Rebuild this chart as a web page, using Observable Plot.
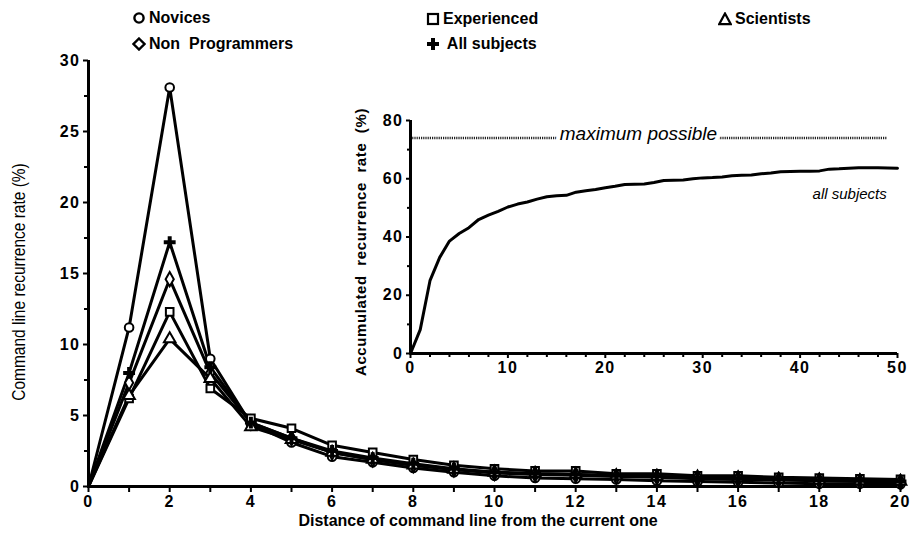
<!DOCTYPE html>
<html>
<head>
<meta charset="utf-8">
<script src="https://cdn.jsdelivr.net/npm/d3@7"></script>
<script src="https://cdn.jsdelivr.net/npm/@observablehq/plot@0.6"></script>
<style>
  html, body { margin: 0; padding: 0; background: #fff; }
  #wrap { position: relative; width: 914px; height: 534px; overflow: hidden;
          font-family: "Liberation Sans", Arial, Helvetica, sans-serif; color: #000; }
  #main { position: absolute; left: 0; top: 0; }
  #inset { position: absolute; left: 340px; top: 100px; }
  .leg { position: absolute; display: flex; align-items: center; font-weight: bold;
         font-size: 16px; white-space: pre; line-height: 1; }
  .leg svg { margin-right: 3px; }
  .title { position: absolute; white-space: pre; line-height: 1; }
</style>
</head>
<body>
<div id="wrap">
  <div id="main"></div>
  <div id="inset"></div>
  <div id="legend"></div>
  <div id="titles"></div>
</div>
<script>
// ---------------- data ----------------
const distances = [0, 1, 2, 3, 4, 5, 6, 7, 8, 9, 10, 11, 12, 13, 14, 15, 16, 17, 18, 19, 20];
const novices        = [0, 11.2, 28.1, 9.0, 4.4, 3.1, 2.1, 1.7, 1.3, 1.0, 0.75, 0.6, 0.55, 0.5, 0.4, 0.35, 0.3, 0.25, 0.2, 0.2, 0.15];
const experienced    = [0, 6.2, 12.3, 6.9, 4.8, 4.1, 2.9, 2.4, 1.9, 1.5, 1.25, 1.1, 1.1, 0.9, 0.9, 0.75, 0.75, 0.65, 0.6, 0.55, 0.5];
const scientists     = [0, 6.4, 10.4, 7.6, 4.2, 3.3, 2.4, 1.9, 1.5, 1.2, 1.0, 0.9, 0.85, 0.75, 0.7, 0.65, 0.6, 0.5, 0.45, 0.4, 0.35];
const nonProgrammers = [0, 7.3, 14.6, 8.0, 4.5, 3.4, 2.4, 1.9, 1.5, 1.2, 0.95, 0.85, 0.8, 0.7, 0.65, 0.55, 0.5, 0.45, 0.4, 0.35, 0.3];
const allSubjects    = [0, 8.0, 17.2, 8.4, 4.5, 3.4, 2.5, 2.0, 1.6, 1.25, 1.0, 0.9, 0.85, 0.75, 0.7, 0.6, 0.55, 0.5, 0.45, 0.4, 0.35];

const groupNames   = ["Novices", "Non Programmers", "Experienced", "All subjects", "Scientists"];
const groupSymbols = ["circle", "diamond", "square", "cross", "triangle"];

const mainXLabels = [0, 2, 4, 6, 8, 10, 12, 14, 16, 18, 20];
const mainXMinor  = [1, 3, 5, 7, 9, 11, 13, 15, 17, 19];
const mainYLabels = [0, 5, 10, 15, 20, 25, 30];
const mainYMinor  = [2.5, 7.5, 12.5, 17.5, 22.5, 27.5];

// inset: accumulated recurrence rate, all subjects
const accDistance = [0, 1, 2, 3, 4, 5, 6, 7, 8, 9, 10, 11, 12, 13, 14, 15, 16, 17, 18, 19, 20,
  21, 22, 23, 24, 25, 26, 27, 28, 29, 30, 31, 32, 33, 34, 35, 36, 37, 38, 39, 40,
  41, 42, 43, 44, 45, 46, 47, 48, 49, 50];
const accRate = [0, 8.2, 25.0, 33.0, 38.6, 41.2, 43.2, 46.0, 47.5, 48.8, 50.3, 51.3, 52.0, 53.0, 53.8, 54.2, 54.3, 55.4, 55.9, 56.3, 56.9,
  57.4, 58.0, 58.1, 58.2, 58.7, 59.4, 59.5, 59.6, 60.0, 60.3, 60.4, 60.6, 61.0, 61.2, 61.3, 61.7, 62.0, 62.4, 62.5, 62.6,
  62.6, 62.7, 63.3, 63.4, 63.6, 63.8, 63.8, 63.8, 63.7, 63.6];
const maxPossible = 74;
const maxPossibleExtent = [0, 49];
const insetXLabels = [0, 10, 20, 30, 40, 50];
const insetXMinor  = [2, 4, 6, 8, 12, 14, 16, 18, 22, 24, 26, 28, 32, 34, 36, 38, 42, 44, 46, 48];
const insetYLabels = [0, 20, 40, 60, 80];
const insetYMinor  = [10, 30, 50, 70];
const insetNotes = [
  {text: "maximum possible", x: 23.4, y: 74, halo: true},
  {text: "all subjects", x: 48.9, y: 54.8, halo: false}
];

// ---------------- main chart ----------------
const seriesValues = [novices, nonProgrammers, experienced, allSubjects, scientists];
const mainData = groupNames.flatMap((g, k) =>
  distances.map((d, i) => ({group: g, distance: d, rate: seriesValues[k][i]})));
const markerData = mainData.filter(d => d.distance > 0);

const font = "'Liberation Sans', Arial, Helvetica, sans-serif";

const main = Plot.plot({
  width: 914, height: 534,
  marginLeft: 88, marginRight: 14, marginTop: 60, marginBottom: 48,
  x: {domain: [0, 20]},
  y: {domain: [0, 30]},
  symbol: {domain: groupNames, range: groupSymbols},
  style: {fontFamily: font, fontSize: "16px", fontWeight: "bold", letterSpacing: "1.5px",
          background: "transparent", overflow: "visible", color: "#000"},
  marks: [
    Plot.axisX({ticks: mainXMinor, tickSize: 6, strokeWidth: 2, tickFormat: () => "", label: null}),
    Plot.axisX({ticks: mainXLabels, tickSize: 6, tickPadding: 3, strokeWidth: 2, label: null}),
    Plot.axisY({ticks: mainYMinor, tickSize: 4, strokeWidth: 2, tickFormat: () => "", label: null}),
    Plot.axisY({ticks: mainYLabels, tickSize: 5, tickPadding: 3, strokeWidth: 2, label: null}),
    Plot.ruleY([0], {stroke: "black", strokeWidth: 3}),
    Plot.ruleX([0], {stroke: "black", strokeWidth: 3}),
    Plot.line(mainData, {x: "distance", y: "rate", z: "group", stroke: "black",
                         strokeWidth: 3, strokeLinejoin: "miter"}),
    Plot.dot(markerData.filter(d => d.group !== "All subjects"),
             {x: "distance", y: "rate", symbol: "group", r: 4.3, fill: "white",
              stroke: "black", strokeWidth: 2}),
    Plot.dot(markerData.filter(d => d.group === "All subjects"),
             {x: "distance", y: "rate", symbol: "group", r: 5, fill: "black", stroke: "none"})
  ]
});
document.getElementById("main").appendChild(main);

// ---------------- inset chart ----------------
const accData = accDistance.map((d, i) => ({distance: d, rate: accRate[i]}));
const inset = Plot.plot({
  width: 574, height: 290,
  marginLeft: 70, marginRight: 17, marginTop: 20, marginBottom: 37,
  x: {domain: [0, 50]},
  y: {domain: [0, 80]},
  style: {fontFamily: font, fontSize: "16px", fontWeight: "bold", letterSpacing: "1.5px",
          background: "transparent", overflow: "visible", color: "#000"},
  marks: [
    Plot.axisX({ticks: insetXMinor, tickSize: 4, strokeWidth: 2, tickFormat: () => "", label: null}),
    Plot.axisX({ticks: insetXLabels, tickSize: 5, tickPadding: 3, strokeWidth: 2, label: null}),
    Plot.axisY({ticks: insetYMinor, tickSize: 3, strokeWidth: 2, tickFormat: () => "", label: null}),
    Plot.axisY({ticks: insetYLabels, tickSize: 4, tickPadding: 3, strokeWidth: 2, label: null}),
    Plot.ruleY([maxPossible], {x1: maxPossibleExtent[0], x2: maxPossibleExtent[1],
               stroke: "#222", strokeWidth: 2.5, strokeDasharray: "1.2,1"}),
    Plot.ruleY([0], {stroke: "black", strokeWidth: 3}),
    Plot.ruleX([0], {stroke: "black", strokeWidth: 3}),
    Plot.line(accData, {x: "distance", y: "rate", stroke: "black", strokeWidth: 3}),
    Plot.text(insetNotes.filter(d => d.halo), {x: "x", y: "y", text: "text", textAnchor: "middle",
              dy: -4, fontStyle: "italic", fontWeight: "normal", fontSize: 19, fill: "black",
              stroke: "white", strokeWidth: 8}),
    Plot.text(insetNotes.filter(d => !d.halo), {x: "x", y: "y", text: "text", textAnchor: "end",
              fontStyle: "italic", fontWeight: "normal", fontSize: 15, fill: "black"})
  ]
});
inset.querySelectorAll("text").forEach(t => {
  if (t.closest("[aria-label='text']")) t.style.letterSpacing = "0px";
});
document.getElementById("inset").appendChild(inset);

// ---------------- legend ----------------
const legendIcons = {
  circle:   '<circle cx="7" cy="7" r="4.6" fill="white" stroke="black" stroke-width="2.4"/>',
  diamond:  '<path d="M7,1.5 L12.5,7 L7,12.5 L1.5,7 Z" fill="white" stroke="black" stroke-width="2.4"/>',
  square:   '<rect x="2" y="2" width="10" height="10" fill="white" stroke="black" stroke-width="2.2"/>',
  cross:    '<path d="M5,1 H9 V5 H13 V9 H9 V13 H5 V9 H1 V5 H5 Z" fill="black"/>',
  triangle: '<path d="M7,1.5 L12.8,12.2 L1.2,12.2 Z" fill="white" stroke="black" stroke-width="2.2" stroke-linejoin="miter"/>'
};
const legendSpots = [
  {left: 132, top: 18}, {left: 132, top: 44},
  {left: 426, top: 19}, {left: 426, top: 44},
  {left: 718, top: 19}
];
const legendGaps = ["", "", "", " ", ""];
const legend = document.getElementById("legend");
groupNames.forEach((g, i) => {
  const div = document.createElement("div");
  div.className = "leg";
  div.style.left = legendSpots[i].left + "px";
  div.style.top = (legendSpots[i].top - 8) + "px";
  div.innerHTML = `<svg width="14" height="14" viewBox="0 0 14 14">${legendIcons[groupSymbols[i]]}</svg>` +
    `<span>${legendGaps[i]}${g === "Non Programmers" ? "Non&nbsp; Programmers" : g}</span>`;
  legend.appendChild(div);
});

// ---------------- axis titles ----------------
const titles = document.getElementById("titles");
function addTitle(text, cx, cy, transform, css) {
  const d = document.createElement("div");
  d.className = "title";
  d.textContent = text;
  Object.assign(d.style, css);
  d.style.left = cx + "px";
  d.style.top = cy + "px";
  d.style.transform = `translate(-50%, -50%) ${transform}`;
  titles.appendChild(d);
}
addTitle("Distance of command line from the current one", 478, 521, "",
         {fontWeight: "bold", fontSize: "16px"});
addTitle("Command line recurrence rate (%)", 19, 282, "rotate(-90deg) scaleX(0.86)",
         {fontWeight: "normal", fontSize: "18px"});
addTitle("Accumulated  recurrence  rate  (%)", 360, 242, "rotate(-90deg)",
         {fontWeight: "bold", fontSize: "15px", letterSpacing: "0.6px"});
</script>
</body>
</html>
